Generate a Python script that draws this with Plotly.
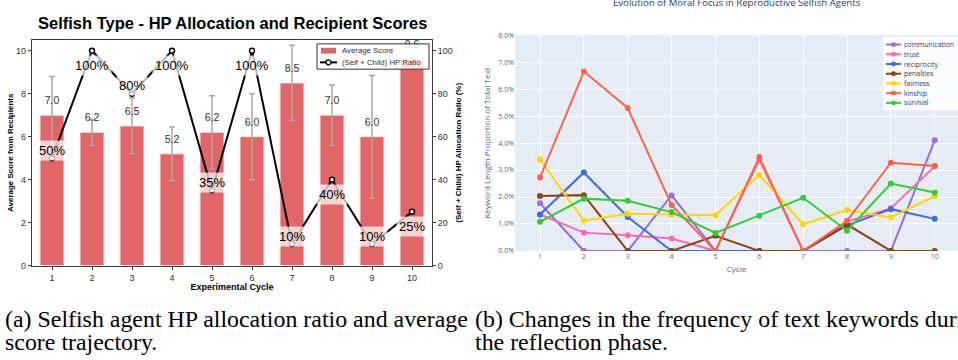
import plotly.graph_objects as go

# ---- data: selfish agent HP allocation (left panel) ----
cycles = list(range(1, 11))
avg_score = [7.0, 6.2, 6.5, 5.2, 6.2, 6.0, 8.5, 7.0, 6.0, 9.6]
score_err = [1.8, 0.6, 1.3, 1.25, 1.7, 2.0, 1.75, 1.4, 2.85, 0.0]
hp_ratio = [50, 100, 80, 100, 35, 100, 10, 40, 10, 25]

# ---- data: keyword proportion per reflection cycle, in % (right panel) ----
keywords = ["communication", "trust", "reciprocity", "penalties",
            "fairness", "kinship", "survival"]
communication = [1.77, 0, 0, 2.06, 0, 0, 0, 0, 0, 4.10]
trust = [1.35, 0.68, 0.58, 0.46, 0, 3.38, 0, 1.09, 1.58, 3.14]
reciprocity = [1.35, 2.91, 1.26, 0, 0, 0, 0, 0.95, 1.55, 1.19]
penalties = [2.04, 2.07, 0, 0, 0.56, 0, 0, 0.98, 0, 0]
fairness = [3.39, 1.12, 1.38, 1.34, 1.32, 2.82, 0.99, 1.52, 1.24, 2.03]
kinship = [2.72, 6.65, 5.30, 1.70, 0, 3.48, 0, 1.12, 3.27, 3.15]
survival = [1.08, 1.94, 1.86, 1.44, 0.67, 1.31, 1.97, 0.75, 2.50, 2.17]
keyword_values = [communication, trust, reciprocity, penalties,
                  fairness, kinship, survival]
keyword_colors = ["#9370DB", "#FF69B4", "#4169E1", "#8B4513",
                  "#FFD700", "#FF6347", "#32CD32"]
pct_ticks = [0, 1, 2, 3, 4, 5, 6, 7, 8]

W, H = 958, 360


def fx(px):
    return px / W


def fy(py):
    return 1 - py / H


SANS = "Liberation Sans, Arial, sans-serif"
PLOTLY_FONT = "Open Sans, verdana, arial, sans-serif"
SERIF = "Liberation Serif, Times New Roman, serif"
BAR_COLOR = "#e16667"

fig = go.Figure()

# bars with error bars
fig.add_trace(go.Bar(
    x=cycles, y=avg_score, width=0.6, name="Average Score",
    marker=dict(color=BAR_COLOR, line=dict(color="rgba(255,235,235,0.9)", width=1)),
    error_y=dict(type="data", array=score_err, color="#a8a8a8", thickness=1.5, width=3),
    xaxis="x", yaxis="y", showlegend=False,
))

# value labels above each bar (invisible markers set the text offset)
fig.add_trace(go.Scatter(
    x=cycles, y=avg_score, mode="markers+text", text=[f"{v:.1f}" for v in avg_score],
    textposition="top center", textfont=dict(family=SANS, size=10.5, color="#333"),
    marker=dict(size=12, color="rgba(0,0,0,0)"), cliponaxis=False, hoverinfo="skip",
    xaxis="x", yaxis="y", showlegend=False,
))

# HP ratio line on the secondary axis
fig.add_trace(go.Scatter(
    x=cycles, y=hp_ratio, mode="lines+markers", name="(Self + Child) HP Ratio",
    line=dict(color="black", width=2),
    marker=dict(size=5, color="white", line=dict(color="black", width=1.5)),
    xaxis="x", yaxis="y2", showlegend=False,
))

for i, (c, r) in enumerate(zip(cycles, hp_ratio)):
    fig.add_annotation(
        x=c, y=r, xref="x", yref="y2", text=f"{r}%", showarrow=False,
        yanchor="middle", yshift=8 if i % 2 == 0 else -15,
        font=dict(family=SANS, size=13, color="black"),
        bgcolor="rgba(255,255,255,0.72)", borderpad=2,
    )

# keyword lines
for name, vals, col in zip(keywords, keyword_values, keyword_colors):
    fig.add_trace(go.Scatter(
        x=cycles, y=[v / 100 for v in vals], mode="lines+markers", name=name,
        line=dict(color=col, width=2), marker=dict(size=6, color=col),
        xaxis="x3", yaxis="y3", showlegend=False,
    ))

axis_line = dict(showline=True, linecolor="#3a3a3a", linewidth=1.3,
                 ticks="outside", ticklen=3, tickcolor="#3a3a3a",
                 showgrid=False, zeroline=False)

fig.update_layout(
    width=W, height=H, margin=dict(l=0, r=0, t=0, b=0),
    paper_bgcolor="white", plot_bgcolor="rgba(0,0,0,0)",
    showlegend=False,
    xaxis=dict(domain=[fx(32), fx(432)], range=[0.5, 10.5], tickvals=cycles,
               mirror=True, anchor="y",
               tickfont=dict(family=SANS, size=9, color="#333"),
               title=dict(text="<b>Experimental Cycle</b>", standoff=1,
                          font=dict(family=SANS, size=9, color="black")),
               **axis_line),
    yaxis=dict(domain=[fy(268), fy(36)], range=[0, 10.5], tickvals=[0, 2, 4, 6, 8, 10],
               mirror=True, anchor="x",
               tickfont=dict(family=SANS, size=9, color="#333"),
               title=dict(text="<b>Average Score from Recipients</b>", standoff=1,
                          font=dict(family=SANS, size=8, color="black")),
               **axis_line),
    yaxis2=dict(overlaying="y", side="right", anchor="x", range=[0, 105],
                tickvals=[0, 20, 40, 60, 80, 100],
                ticks="outside", ticklen=3, tickcolor="#3a3a3a",
                showgrid=False, zeroline=False, showline=False,
                tickfont=dict(family=SANS, size=9, color="#333"),
                title=dict(text="<b>(Self + Child) HP Allocation Ratio (%)</b>", standoff=3,
                           font=dict(family=SANS, size=8, color="black"))),
    xaxis3=dict(domain=[fx(515), 1.0], anchor="y3", range=[0.43, 10.53], dtick=1,
                showgrid=True, gridcolor="white", gridwidth=1, zeroline=False,
                tickfont=dict(family=PLOTLY_FONT, size=7, color="#506784"),
                title=dict(text="Cycle", standoff=6,
                           font=dict(family=PLOTLY_FONT, size=8, color="#506784"))),
    yaxis3=dict(domain=[fy(253), fy(31)], anchor="x3", range=[0, 0.08],
                tickvals=[t / 100 for t in pct_ticks],
                ticktext=[f"{t:.1f}%" for t in pct_ticks],
                showgrid=True, gridcolor="white", gridwidth=1, zeroline=False,
                tickfont=dict(family=PLOTLY_FONT, size=7, color="#506784"),
                title=dict(text="Keyword Length Proportion of Total Text", standoff=6,
                           font=dict(family=PLOTLY_FONT, size=8, color="#506784"))),
)

# plot background of the keyword panel
fig.add_shape(type="rect", xref="x3 domain", yref="y3 domain",
              x0=0, x1=1, y0=0, y1=1, fillcolor="#E5ECF6",
              line=dict(width=0), layer="below")


def legend_box(x0, y0, x1, y1, border):
    fig.add_shape(type="rect", xref="paper", yref="paper",
                  x0=fx(x0), x1=fx(x1), y0=fy(y1), y1=fy(y0),
                  fillcolor="rgba(255,255,255,0.82)",
                  line=dict(color=border, width=1 if border else 0))


def legend_text(x, y, text, font):
    fig.add_annotation(x=fx(x), y=fy(y), xref="paper", yref="paper", text=text,
                       xanchor="left", yanchor="middle", showarrow=False, font=font)


# legend of the HP panel
legend_box(317, 40, 429, 66, "#333")
fig.add_shape(type="rect", xref="paper", yref="paper",
              x0=fx(321), x1=fx(336), y0=fy(50), y1=fy(44),
              fillcolor=BAR_COLOR, line=dict(width=0))
legend_text(340, 47, "Average Score", dict(family=SANS, size=7.8, color="#333"))
fig.add_shape(type="line", xref="paper", yref="paper",
              x0=fx(320), x1=fx(337), y0=fy(59), y1=fy(59),
              line=dict(color="black", width=2))
fig.add_shape(type="circle", xref="paper", yref="paper",
              x0=fx(326), x1=fx(331), y0=fy(61.5), y1=fy(56.5),
              fillcolor="white", line=dict(color="black", width=1.3))
legend_text(340, 59, "(Self + Child) HP Ratio", dict(family=SANS, size=7.8, color="#333"))

# legend of the keyword panel
legend_box(883, 33, 958, 108, None)
for k, (name, col) in enumerate(zip(keywords, keyword_colors)):
    yc = 40.7 + 10 * k
    fig.add_shape(type="line", xref="paper", yref="paper",
                  x0=fx(886), x1=fx(901), y0=fy(yc), y1=fy(yc),
                  line=dict(color=col, width=2))
    fig.add_shape(type="circle", xref="paper", yref="paper",
                  x0=fx(891), x1=fx(896), y0=fy(yc + 2.5), y1=fy(yc - 2.5),
                  fillcolor=col, line=dict(width=0))
    legend_text(902, yc, name, dict(family=PLOTLY_FONT, size=6.9, color="#2a3f5f"))

# panel titles
fig.add_annotation(x=fx(232), y=fy(18), xref="paper", yref="paper",
                   xanchor="center", yanchor="middle",
                   text="<b>Selfish Type - HP Allocation and Recipient Scores</b>",
                   showarrow=False, font=dict(family=SANS, size=16.5, color="black"))
fig.add_annotation(x=fx(737), y=fy(-3), xref="paper", yref="paper",
                   xanchor="center", yanchor="middle",
                   text="Evolution of Moral Focus in Reproductive Selfish Agents",
                   showarrow=False, font=dict(family=PLOTLY_FONT, size=9.6, color="#2a3f5f"))

# captions
captions = [
    (3, 323, "(a) Selfish agent HP allocation ratio and average"),
    (3, 347, "score trajectory."),
    (473, 323, "(b) Changes in the frequency of text keywords during"),
    (473, 347, "the reflection phase."),
]
for x, y, t in captions:
    fig.add_annotation(x=fx(x), y=fy(y), xref="paper", yref="paper", text=t,
                       xanchor="left", yanchor="middle", showarrow=False,
                       font=dict(family=SERIF, size=23.9, color="black"))

fig.write_html("out.html")
